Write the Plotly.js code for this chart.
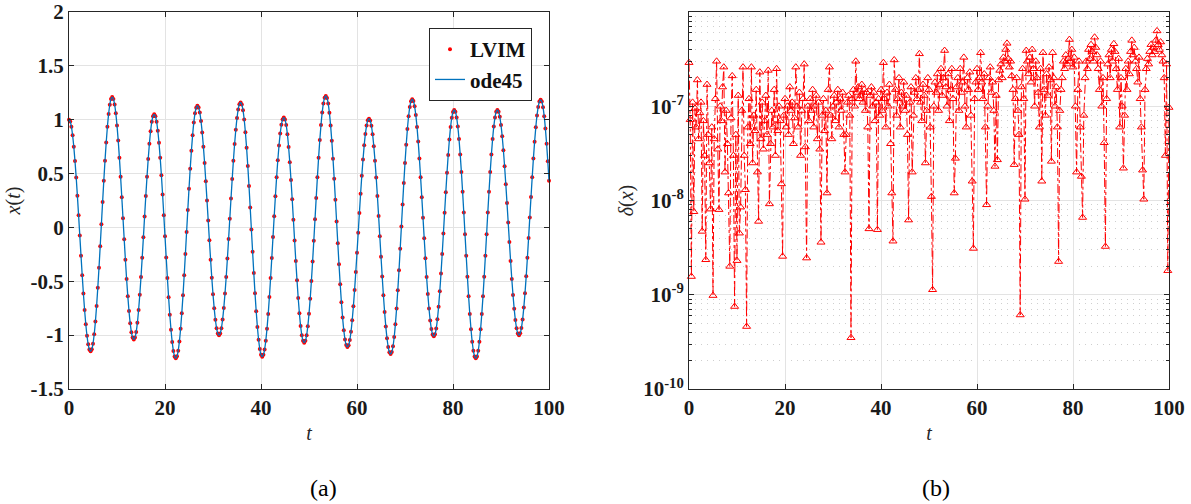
<!DOCTYPE html>
<html>
<head>
<meta charset="utf-8">
<script src="https://cdn.plot.ly/plotly-3.0.1.min.js"></script>
<style>html,body{margin:0;padding:0;background:#fff;}#chart{width:1191px;height:504px;}</style>
</head>
<body>
<div id="chart"></div>
<script>
// sampling grid: t = 0 .. 100, step 0.25 (401 samples)
const tStart = 0;
const tStep = 0.25;

// x(t)
const xValues = [
 1.000, 0.984, 0.935, 0.856, 0.749, 0.616, 0.463, 0.293, 0.112, -0.075, -0.262, -0.443, -0.613, -0.766, -0.899, -1.006, -1.085, -1.134, -1.150,
 -1.132, -1.079, -0.992, -0.874, -0.729, -0.560, -0.374, -0.175, 0.030, 0.235, 0.434, 0.620, 0.789, 0.934, 1.052, 1.139, 1.192, 1.210,
 1.193, 1.142, 1.059, 0.947, 0.808, 0.648, 0.470, 0.280, 0.085, -0.110, -0.300, -0.478, -0.638, -0.777, -0.889, -0.972, -1.023, -1.040,
 -1.022, -0.970, -0.884, -0.767, -0.625, -0.461, -0.281, -0.092, 0.102, 0.291, 0.471, 0.635, 0.777, 0.894, 0.980, 1.032, 1.050,
 1.033, 0.982, 0.898, 0.785, 0.646, 0.484, 0.305, 0.114, -0.083, -0.279, -0.470, -0.649, -0.811, -0.950, -1.063, -1.147, -1.198, -1.215,
 -1.197, -1.144, -1.058, -0.941, -0.796, -0.629, -0.444, -0.246, -0.043, 0.161, 0.359, 0.544, 0.711, 0.856, 0.973, 1.059, 1.112, 1.130,
 1.114, 1.066, 0.987, 0.881, 0.750, 0.598, 0.429, 0.250, 0.065, -0.120, -0.299, -0.468, -0.620, -0.751, -0.857, -0.936, -0.984, -1.000,
 -0.984, -0.935, -0.855, -0.747, -0.614, -0.460, -0.289, -0.108, 0.080, 0.268, 0.449, 0.620, 0.774, 0.907, 1.015, 1.095, 1.144, 1.160,
 1.142, 1.089, 1.002, 0.884, 0.739, 0.570, 0.384, 0.185, -0.020, -0.225, -0.424, -0.610, -0.779, -0.924, -1.042, -1.129, -1.182, -1.200,
 -1.183, -1.133, -1.051, -0.940, -0.804, -0.645, -0.470, -0.283, -0.090, 0.103, 0.290, 0.465, 0.624, 0.760, 0.871, 0.953, 1.003, 1.020,
 1.002, 0.950, 0.864, 0.747, 0.605, 0.441, 0.261, 0.072, -0.122, -0.311, -0.491, -0.655, -0.797, -0.914, -1.000, -1.052, -1.070,
 -1.053, -1.001, -0.917, -0.802, -0.661, -0.498, -0.317, -0.124, 0.075, 0.274, 0.467, 0.648, 0.811, 0.952, 1.067, 1.151, 1.203, 1.220,
 1.202, 1.150, 1.064, 0.947, 0.804, 0.638, 0.453, 0.257, 0.055, -0.147, -0.343, -0.528, -0.694, -0.837, -0.954, -1.040, -1.092, -1.110,
 -1.094, -1.046, -0.968, -0.862, -0.731, -0.580, -0.413, -0.234, -0.050, 0.134, 0.313, 0.480, 0.631, 0.762, 0.868, 0.946, 0.994, 1.010,
 0.993, 0.944, 0.864, 0.754, 0.620, 0.464, 0.291, 0.107, -0.083, -0.272, -0.456, -0.629, -0.785, -0.919, -1.029, -1.109, -1.158, -1.175,
 -1.157, -1.104, -1.017, -0.898, -0.753, -0.584, -0.397, -0.198, 0.008, 0.213, 0.412, 0.599, 0.768, 0.913, 1.032, 1.119, 1.172, 1.190,
 1.173, 1.124, 1.043, 0.933, 0.797, 0.640, 0.466, 0.281, 0.090, -0.101, -0.286, -0.460, -0.617, -0.753, -0.863, -0.944, -0.993, -1.010,
 -0.992, -0.939, -0.853, -0.736, -0.593, -0.428, -0.247, -0.057, 0.137, 0.327, 0.508, 0.673, 0.816, 0.933, 1.019, 1.072, 1.090,
 1.073, 1.021, 0.936, 0.820, 0.678, 0.514, 0.332, 0.138, -0.063, -0.263, -0.457, -0.639, -0.803, -0.945, -1.061, -1.146, -1.198, -1.215,
 -1.198, -1.146, -1.061, -0.945, -0.803, -0.639, -0.457, -0.263, -0.063, 0.138, 0.332, 0.514, 0.678, 0.820, 0.936, 1.021, 1.073, 1.090,
 1.074, 1.027, 0.950, 0.846, 0.717, 0.568, 0.402, 0.226, 0.045, -0.136, -0.312, -0.478, -0.627, -0.756, -0.860, -0.937, -0.984, -1.000,
 -0.983, -0.934, -0.854, -0.744, -0.610, -0.454, -0.281, -0.097, 0.093, 0.282, 0.466, 0.639, 0.795, 0.929, 1.039, 1.119, 1.168, 1.185,
 1.168, 1.116, 1.032, 0.918, 0.777, 0.614, 0.433
];

// delta(x), in units of 1e-9
const deltaNano = [
 290, 72, 1.56, 110, 7.6, 95, 60, 190, 45, 85, 110, 4.7, 70, 30, 2.35, 170, 50, 25, 8.1, 60,
 0.98, 45, 120, 300, 35, 8, 100, 70, 160, 260, 20, 90, 40, 12, 2.0, 75, 210, 30, 0.75, 50,
 2.3, 130, 4.5, 8.5, 90, 260, 30, 13, 0.46, 60, 120, 40, 260, 25, 80, 55, 150, 20, 6, 230,
 45, 110, 35, 70, 130, 50, 240, 9.2, 40, 90, 60, 150, 30, 250, 55, 100, 70, 15, 2.55, 80,
 120, 60, 100, 50, 160, 90, 110, 40, 75, 260, 100, 60, 140, 30, 90, 120, 280, 37, 2.45, 100,
 70, 120, 90, 150, 60, 100, 130, 45, 110, 35, 3.6, 80, 120, 55, 90, 12, 150, 260, 80, 45,
 100, 130, 70, 110, 150, 60, 120, 90, 140, 50, 20, 50, 110, 130, 80, 0.35, 120, 150, 100, 300,
 140, 160, 120, 130, 170, 110, 150, 90, 140, 60, 5, 130, 160, 100, 140, 70, 110, 4.9, 120, 80,
 150, 90, 290, 120, 60, 140, 100, 170, 40, 12, 3.7, 310, 150, 80, 120, 200, 60, 140, 100, 180,
 90, 130, 50, 6.2, 110, 160, 20, 80, 140, 200, 120, 150, 360, 110, 70, 170, 130, 25, 90, 200,
 150, 60, 11, 1.13, 100, 180, 140, 220, 90, 170, 250, 130, 200, 390, 160, 100, 220, 70, 150, 250,
 120, 12, 28, 160, 200, 90, 250, 140, 180, 330, 100, 60, 200, 150, 230, 80, 16, 3.1, 120, 180,
 250, 150, 200, 370, 180, 120, 220, 60, 9, 100, 200, 260, 140, 180, 90, 23, 130, 27, 190, 240,
 280, 200, 330, 300, 400, 465, 320, 260, 300, 210, 150, 24, 120, 200, 90, 50, 0.61, 160, 250, 120,
 10.3, 390, 300, 220, 330, 180, 400, 250, 100, 300, 200, 140, 60, 250, 16, 370, 150, 80, 220, 130,
 260, 190, 26, 370, 200, 100, 160, 60, 2.25, 90, 150, 200, 300, 250, 350, 280, 320, 510, 300, 400,
 260, 330, 100, 20, 150, 300, 60, 18, 6.6, 80, 200, 300, 250, 400, 320, 450, 380, 300, 540, 420,
 350, 250, 150, 300, 100, 200, 41, 3.25, 120, 280, 350, 200, 400, 300, 460, 380, 250, 150, 320, 60,
 200, 100, 22, 80, 250, 150, 300, 220, 380, 500, 350, 420, 300, 250, 180, 330, 120, 60, 21, 10.3,
 150, 250, 320, 280, 380, 450, 350, 420, 380, 500, 630, 450, 400, 480, 350, 300, 200, 30, 280, 1.8, 97
];
const deltaX = deltaNano.map(v => v * 1e-9);

// tick labels
const xTickVals = [0, 20, 40, 60, 80, 100];
const xTickText = ['0', '20', '40', '60', '80', '100'];
const yTickVals = [-1.5, -1, -0.5, 0, 0.5, 1, 1.5, 2];
const yTickText = ['-1.5', '-1', '-0.5', '0', '0.5', '1', '1.5', '2'];
const logTickVals = [1e-10, 1e-9, 1e-8, 1e-7, 1e-6];
const logTickText = ['10<sup>-10</sup>', '10<sup>-9</sup>', '10<sup>-8</sup>', '10<sup>-7</sup>', '10<sup>-6</sup>'];

const bold = arr => arr.map(s => '<b>' + s + '</b>');

const minorLog = [];
for (let d = -10; d < -6; d++) for (let m = 2; m <= 9; m++) minorLog.push(m * Math.pow(10, d));

const FONT = 'Liberation Serif';
const tickFont = {family: FONT, size: 21, color: '#1a1a1a'};
const axisColor = '#262626';
const gridColor = '#e3e3e3';

const traces = [
  {
    name: '<b>LVIM</b>', x0: tStart, dx: tStep, y: xValues, xaxis: 'x', yaxis: 'y',
    type: 'scatter', mode: 'markers',
    marker: {color: '#ff0000', size: 4, symbol: 'circle'},
    cliponaxis: false
  },
  {
    name: '<b>ode45</b>', x0: tStart, dx: tStep, y: xValues, xaxis: 'x', yaxis: 'y',
    type: 'scatter', mode: 'lines',
    line: {color: '#0072BD', width: 1.3, shape: 'spline'}
  },
  {
    name: 'delta', x0: tStart, dx: tStep, y: deltaX, xaxis: 'x2', yaxis: 'y2',
    type: 'scatter', mode: 'lines+markers', showlegend: false,
    line: {color: '#ff0000', width: 1, dash: 'dashdot'},
    marker: {color: '#ff0000', size: 7, symbol: 'triangle-up-open', line: {width: 1}},
    cliponaxis: false
  }
];

const commonAxis = {
  showline: true, linecolor: axisColor, linewidth: 1, mirror: 'allticks',
  ticks: 'inside', ticklen: 5, tickcolor: axisColor, tickwidth: 1,
  showgrid: true, gridcolor: gridColor, gridwidth: 1, zeroline: false,
  tickfont: tickFont, automargin: false
};

const layout = {
  width: 1191, height: 504,
  margin: {l: 0, r: 0, t: 0, b: 0},
  paper_bgcolor: '#ffffff', plot_bgcolor: '#ffffff',
  font: {family: FONT},
  showlegend: true,
  legend: {
    x: 532/1191, xanchor: 'right', y: 1 - 28/504, yanchor: 'top',
    bgcolor: '#ffffff', bordercolor: '#262626', borderwidth: 1,
    font: {family: FONT, size: 21, color: '#111'},
    tracegroupgap: 0, itemwidth: 30
  },
  xaxis: Object.assign({}, commonAxis, {
    domain: [69/1191, 549/1191], range: [0, 100], anchor: 'y',
    tickmode: 'array', tickvals: xTickVals, ticktext: bold(xTickText),
    title: {text: '<i>t</i>', font: {family: FONT, size: 20, color: '#262626'}, standoff: 6}
  }),
  yaxis: Object.assign({}, commonAxis, {
    domain: [1 - 389/504, 1 - 12/504], range: [-1.5, 2], anchor: 'x',
    tickmode: 'array', tickvals: yTickVals, ticktext: bold(yTickText),
    title: {text: '<i>x</i>(<i>t</i>)', font: {family: FONT, size: 20, color: '#262626'}, standoff: 4}
  }),
  xaxis2: Object.assign({}, commonAxis, {
    domain: [689/1191, 1169/1191], range: [0, 100], anchor: 'y2',
    tickmode: 'array', tickvals: xTickVals, ticktext: bold(xTickText),
    title: {text: '<i>t</i>', font: {family: FONT, size: 20, color: '#262626'}, standoff: 6}
  }),
  yaxis2: Object.assign({}, commonAxis, {
    domain: [1 - 389/504, 1 - 12/504], type: 'log', range: [-10, -6], anchor: 'x2',
    tickmode: 'array', tickvals: logTickVals, ticktext: bold(logTickText),
    minor: {tickmode: 'array', tickvals: minorLog, ticks: 'inside', ticklen: 3, tickcolor: axisColor,
            showgrid: true, gridcolor: '#cfcfcf', griddash: '1px,5px', gridwidth: 1},
    title: {text: '<i>δ</i>(<i>x</i>)', font: {family: FONT, size: 20, color: '#262626'}, standoff: 4}
  }),
  annotations: [
    {text: '(a)', xref: 'paper', yref: 'paper', x: 323/1191, y: 1 - 488/504, xanchor: 'center', yanchor: 'middle',
     showarrow: false, font: {family: FONT, size: 24, color: '#000'}},
    {text: '(b)', xref: 'paper', yref: 'paper', x: 936/1191, y: 1 - 488/504, xanchor: 'center', yanchor: 'middle',
     showarrow: false, font: {family: FONT, size: 24, color: '#000'}}
  ]
};

Plotly.newPlot('chart', traces, layout, {displayModeBar: false, staticPlot: true});
</script>
</body>
</html>
